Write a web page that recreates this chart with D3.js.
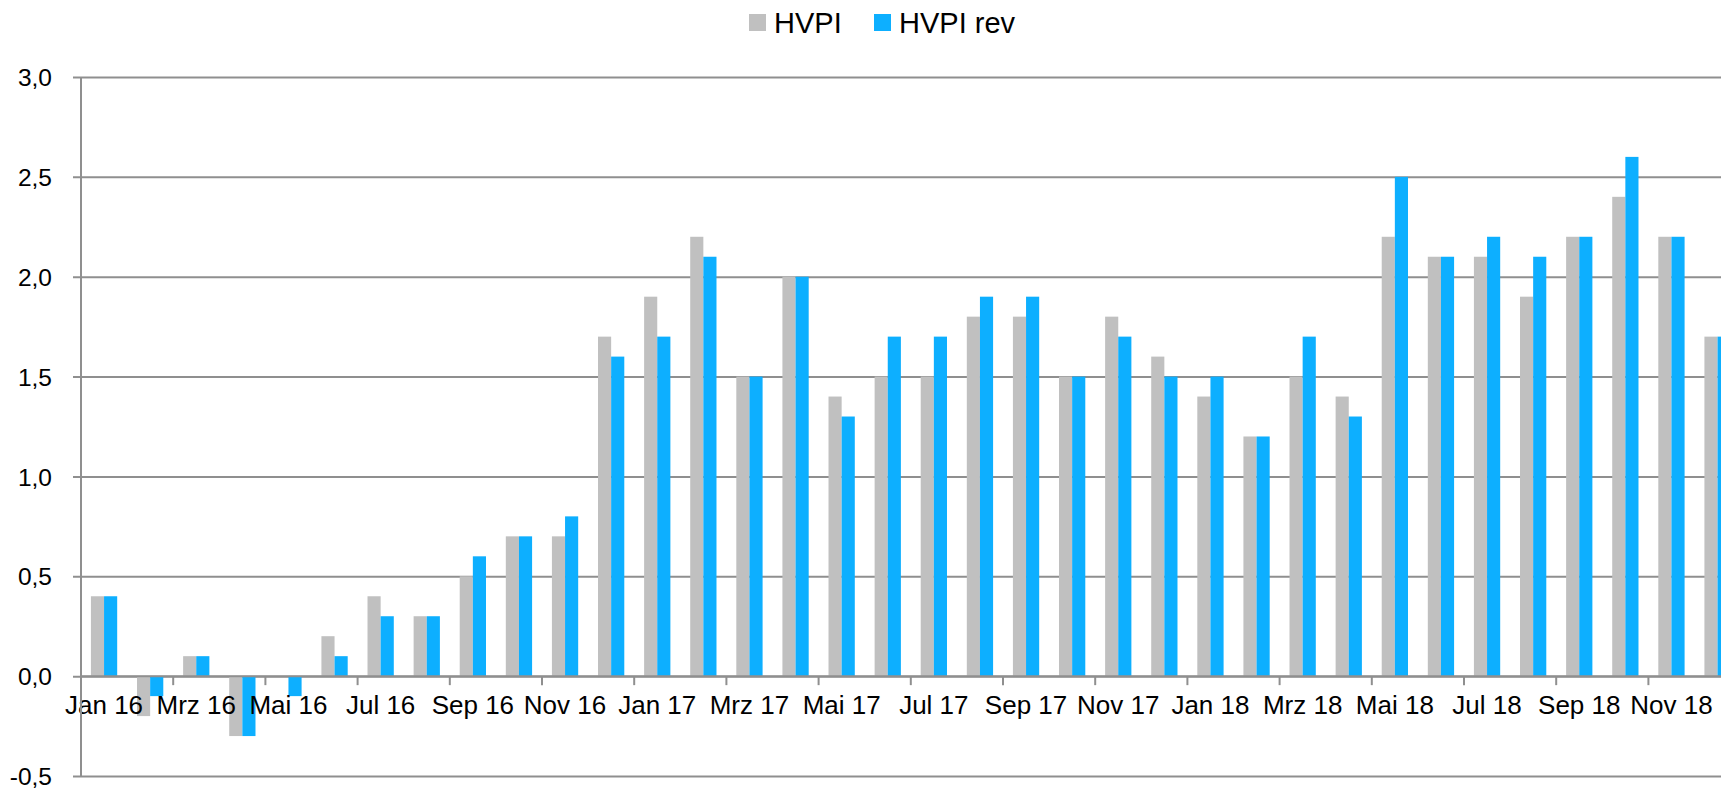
<!DOCTYPE html>
<meta charset="utf-8"/>
<style>
  body { margin: 0; background: #fff; }
  text { font-family: "Liberation Sans", Arial, sans-serif; fill: #000; }
</style>
<svg width="1721" height="788"></svg>
<script src="https://cdn.jsdelivr.net/npm/d3@7"></script>
<script>

var months = ["Jan 16","Feb 16","Mrz 16","Apr 16","Mai 16","Jun 16","Jul 16","Aug 16","Sep 16","Okt 16","Nov 16","Dez 16",
              "Jan 17","Feb 17","Mrz 17","Apr 17","Mai 17","Jun 17","Jul 17","Aug 17","Sep 17","Okt 17","Nov 17","Dez 17",
              "Jan 18","Feb 18","Mrz 18","Apr 18","Mai 18","Jun 18","Jul 18","Aug 18","Sep 18","Okt 18","Nov 18","Dez 18"];

var hvpi    = [0.4,-0.2,0.1,-0.3,0.0,0.2,0.4,0.3,0.5,0.7,0.7,1.7,
               1.9,2.2,1.5,2.0,1.4,1.5,1.5,1.8,1.8,1.5,1.8,1.6,
               1.4,1.2,1.5,1.4,2.2,2.1,2.1,1.9,2.2,2.4,2.2,1.7];

var hvpiRev = [0.4,-0.1,0.1,-0.3,-0.1,0.1,0.3,0.3,0.6,0.7,0.8,1.6,
               1.7,2.1,1.5,2.0,1.3,1.7,1.7,1.9,1.9,1.5,1.7,1.5,
               1.5,1.2,1.7,1.3,2.5,2.1,2.2,2.1,2.2,2.6,2.2,1.7];

var seriesNames = ["HVPI", "HVPI rev"];
var colors = ["#c0c0c0", "#0dafff"];
var yTicks = [-0.5, 0, 0.5, 1, 1.5, 2, 2.5, 3];

var svg = d3.select("svg"),
    plotLeft = 81, plotTop = 77, plotBottom = 776,
    step = 46.1;

// plot runs past the right edge of the picture, like the original
var x = d3.scaleBand()
    .domain(months)
    .range([plotLeft, plotLeft + months.length * step]);

var y = d3.scaleLinear()
    .domain([-0.5, 3])
    .range([plotBottom, plotTop]);

var groupW = x.bandwidth() * 0.57;
var x1 = d3.scaleBand()
    .domain(seriesNames)
    .range([-groupW / 2, groupW / 2]);

// gridlines + y labels
var fmt = function(d) { return d3.format(".1f")(d).replace(".", ",").replace("−", "-"); };

svg.append("g")
    .attr("transform", "translate(" + plotLeft + ",0)")
    .call(d3.axisLeft(y).tickValues(yTicks).tickFormat(fmt)
      .tickSize(-(1721 + 200)).tickPadding(0))
    .call(function(g) {
      g.select(".domain").remove();
      g.selectAll(".tick line")
          .attr("x1", -8)
          .attr("stroke", "#8f8f8f")
          .attr("stroke-width", 2);
      g.selectAll(".tick text")
          .attr("x", -29)
          .attr("dy", "0.35em")
          .style("font-size", "24.5px")
          .style("font-family", "'Liberation Sans', Arial, sans-serif")
          .attr("fill", "#000");
    });

// bars
var data = months.map(function(m, i) { return {month: m, values: [hvpi[i], hvpiRev[i]]}; });

var groups = svg.append("g").selectAll("g")
    .data(data)
  .enter().append("g")
    .attr("transform", function(d) { return "translate(" + (x(d.month) + x.bandwidth() / 2) + ",0)"; });

groups.selectAll("rect")
    .data(function(d) { return d.values.map(function(v, k) { return {key: seriesNames[k], v: v, k: k}; }); })
  .enter().append("rect")
    .attr("x", function(d) { return x1(d.key); })
    .attr("width", x1.bandwidth())
    .attr("y", function(d) { return y(Math.max(0, d.v)); })
    .attr("height", function(d) { return Math.abs(y(d.v) - y(0)); })
    .attr("fill", function(d) { return colors[d.k]; });

// x axis at zero, ticks every second month boundary
var tickMonths = months.filter(function(d, i) { return i % 2 === 0; });

var xAxis = svg.append("g").attr("transform", "translate(0," + y(0) + ")");
xAxis.append("line")
    .attr("x1", plotLeft).attr("x2", 1721)
    .attr("stroke", "#8f8f8f").attr("stroke-width", 2);
xAxis.selectAll(".tk")
    .data(tickMonths.slice(1))
  .enter().append("line")
    .attr("x1", function(d) { return x(d); })
    .attr("x2", function(d) { return x(d); })
    .attr("y1", 0).attr("y2", 9)
    .attr("stroke", "#8f8f8f").attr("stroke-width", 2);
xAxis.selectAll("text")
    .data(tickMonths)
  .enter().append("text")
    .attr("x", function(d) { return x(d) + x.bandwidth() / 2; })
    .attr("y", 38)
    .attr("text-anchor", "middle")
    .style("font-size", "26px")
    .text(function(d) { return d; });

// y axis line
svg.append("line")
    .attr("x1", plotLeft).attr("x2", plotLeft)
    .attr("y1", plotTop).attr("y2", plotBottom)
    .attr("stroke", "#8f8f8f").attr("stroke-width", 2);

// legend
var legend = svg.append("g");
var legendX = [749, 874];
seriesNames.forEach(function(s, k) {
  legend.append("rect")
      .attr("x", legendX[k]).attr("y", 14)
      .attr("width", 17).attr("height", 17)
      .attr("fill", colors[k]);
  legend.append("text")
      .attr("x", legendX[k] + 25).attr("y", 33)
      .style("font-size", "29px")
      .text(s);
});

</script>
